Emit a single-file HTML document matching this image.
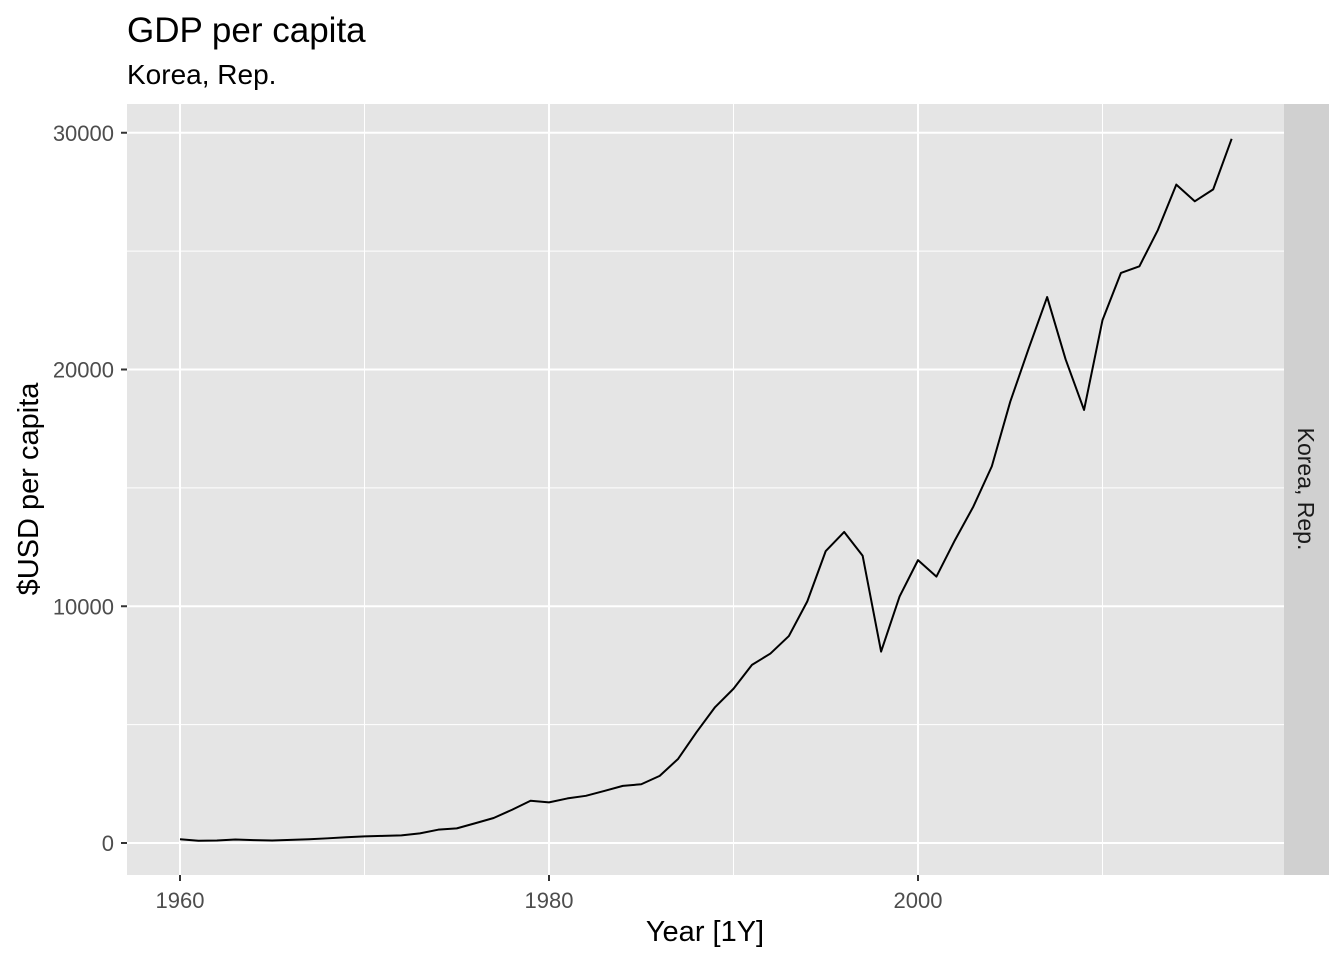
<!DOCTYPE html>
<html><head><meta charset="utf-8"><style>
body{margin:0;background:#fff;font-family:"Liberation Sans",sans-serif}
</style></head><body>
<svg id="chart" width="1344" height="960" xmlns="http://www.w3.org/2000/svg" font-family="Liberation Sans, sans-serif">
<text x="127" y="42" font-size="35" fill="#000">GDP per capita</text>
<text x="127" y="84" font-size="28" fill="#000">Korea, Rep.</text>
<rect x="127" y="104" width="1157" height="771" fill="#e5e5e5"/>
<rect x="1284" y="104" width="45" height="771" fill="#d0d0d0"/>
<text transform="translate(1298,489) rotate(90)" text-anchor="middle" font-size="23" fill="#1a1a1a">Korea, Rep.</text>
<g id="grid"></g><g id="axes"></g>
<text x="705" y="941" text-anchor="middle" font-size="29" fill="#000">Year [1Y]</text>
<text transform="translate(38,489) rotate(-90)" text-anchor="middle" font-size="29" fill="#000">$USD per capita</text>
</svg>
<script>
const years=[1960,1961,1962,1963,1964,1965,1966,1967,1968,1969,1970,1971,1972,1973,1974,1975,1976,1977,1978,1979,1980,1981,1982,1983,1984,1985,1986,1987,1988,1989,1990,1991,1992,1993,1994,1995,1996,1997,1998,1999,2000,2001,2002,2003,2004,2005,2006,2007,2008,2009,2010,2011,2012,2013,2014,2015,2016,2017];
const gdp=[158,93,106,146,124,108,133,161,198,243,279,300,323,406,563,617,834,1055,1405,1784,1715,1883,1993,2199,2413,2482,2835,3555,4686,5738,6516,7523,8001,8741,10205,12333,13138,12132,8085,10409,11948,11253,12789,14209,15908,18640,20888,23061,20431,18292,22087,24080,24359,25890,27811,27105,27608,29743];
const xTicks=[1960,1980,2000];
const yTicks=[0,10000,20000,30000];
const X=v=>180+(v-1960)*18.45;
const Y=v=>843-v*0.023675;
const NS="http://www.w3.org/2000/svg";
const grid=document.getElementById('grid'),axes=document.getElementById('axes'),svg=document.getElementById('chart');
function mk(tag,attrs,parent){const e=document.createElementNS(NS,tag);for(const k in attrs)e.setAttribute(k,attrs[k]);parent.appendChild(e);return e;}
for(let v=1970;v<=2010;v+=20){const l=mk('line',{x1:X(v),x2:X(v),y1:104,y2:875,stroke:'#fff','stroke-width':1},grid);

}
for(let v=5000;v<=25000;v+=10000){const l=mk('line',{x1:127,x2:1284,y1:Y(v),y2:Y(v),stroke:'#fff','stroke-width':1},grid);

}
xTicks.forEach(v=>{const l=mk('line',{x1:X(v),x2:X(v),y1:104,y2:875,stroke:'#fff','stroke-width':2},grid);


const t=mk('line',{x1:X(v),x2:X(v),y1:875,y2:881,stroke:'#333','stroke-width':2},axes);


const tx=mk('text',{x:X(v),y:908,'text-anchor':'middle','font-size':22,fill:'#4d4d4d'},axes);tx.textContent=v;

});
yTicks.forEach(v=>{const l=mk('line',{x1:127,x2:1284,y1:Y(v),y2:Y(v),stroke:'#fff','stroke-width':2},grid);


const t=mk('line',{x1:121,x2:127,y1:Y(v),y2:Y(v),stroke:'#333','stroke-width':2},axes);


const tx=mk('text',{x:114,y:Y(v)+8,'text-anchor':'end','font-size':22,fill:'#4d4d4d'},axes);tx.textContent=v;

});
const p=mk('polyline',{points:years.map((y,i)=>X(y)+','+Y(gdp[i])).join(' '),fill:'none',stroke:'#000','stroke-width':2,'stroke-linejoin':'round'},svg);


</script>
</body></html>
